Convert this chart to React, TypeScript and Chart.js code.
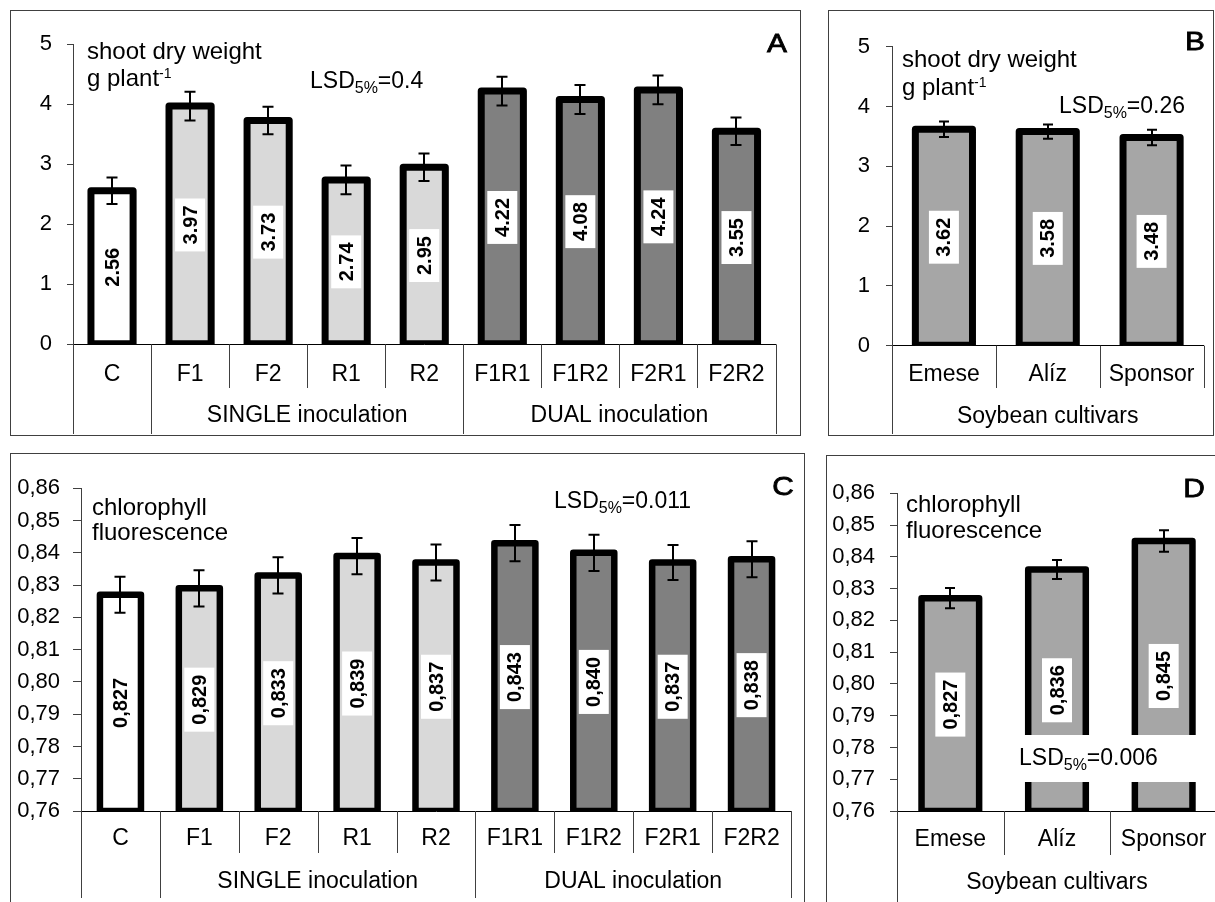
import React, { useEffect, useRef } from "react";
import { Chart, registerables } from "chart.js";

Chart.register(...registerables);

// ---------------- data ----------------
const treatments = ["C", "F1", "F2", "R1", "R2", "F1R1", "F1R2", "F2R1", "F2R2"];
const treatmentGroups = ["", "SINGLE inoculation", "DUAL inoculation"];
const treatmentGroupOf = [0, 1, 1, 1, 1, 2, 2, 2, 2];
const shootWeight = [2.56, 3.97, 3.73, 2.74, 2.95, 4.22, 4.08, 4.24, 3.55];
const shootWeightErr = [0.22, 0.24, 0.23, 0.24, 0.23, 0.24, 0.24, 0.24, 0.23];
const fluorescence = [0.827, 0.829, 0.833, 0.839, 0.837, 0.843, 0.84, 0.837, 0.838];
const fluorescenceErr = [0.0056, 0.0056, 0.0056, 0.0056, 0.0056, 0.0056, 0.0056, 0.0054, 0.0056];

const cultivars = ["Emese", "Alíz", "Sponsor"];
const cultivarGroups = ["Soybean cultivars"];
const cultivarGroupOf = [0, 0, 0];
const cultivarShoot = [3.62, 3.58, 3.48];
const cultivarShootErr = [0.13, 0.12, 0.13];
const cultivarFluor = [0.827, 0.836, 0.845];
const cultivarFluorErr = [0.0032, 0.003, 0.0034];

const shootAxis = [0, 5, 1]; // min, max, step
const fluorAxis = [0.76, 0.86, 0.01];

const lsdShootTreat = "0.4";
const lsdShootCult = "0.26";
const lsdFluorTreat = "0.011";
const lsdFluorCult = "0.006";

// ---------------- styles ----------------
const FAMILY = "'Liberation Sans', Arial, sans-serif";
Chart.defaults.font.family = FAMILY;
const treatmentFill = ["#ffffff", "#d9d9d9", "#d9d9d9", "#d9d9d9", "#d9d9d9", "#808080", "#808080", "#808080", "#808080"];
const cultivarFill = ["#a6a6a6", "#a6a6a6", "#a6a6a6"];
const LINE_GRAY = "#404040";

type Part = { t: string; size?: number; dy?: number; bold?: boolean };
type TextItem = { parts: Part[]; x: number; y: number };

function lsdParts(v: string): Part[] {
  return [{ t: "LSD", size: 23 }, { t: "5%", size: 16, dy: 5 }, { t: "=" + v, size: 23 }];
}
function unitParts(): Part[] {
  return [{ t: "g plant", size: 24 }, { t: "-1", size: 14, dy: -8 }];
}

type PanelCfg = {
  box: { left: number; top: number; width: number; height: number };
  area: { left: number; top: number; right: number; bottom: number };
  labels: string[];
  values: number[];
  errors: number[];
  groups: string[];
  groupOf: number[];
  axis: number[];
  comma: boolean;
  valueDecimals: number;
  colors: string[];
  barPct: number;
  tickLen: number;
  tickPad: number;
  capHalf: number;
  borderW: number;
  catLabelY: number;
  groupLabelY: number;
  shortLineY: number;
  fullLineY: number;
  rightFull: boolean;
  texts: TextItem[];
  letter: { t: string; x: number; y: number };
  whiteBox?: { x: number; y: number; w: number; h: number };
};

function drawRich(ctx: CanvasRenderingContext2D, parts: Part[], x: number, y: number) {
  let cx = x;
  ctx.textAlign = "left";
  ctx.textBaseline = "alphabetic";
  for (const p of parts) {
    ctx.font = `${p.bold ? "bold " : ""}${p.size ?? 22}px ${FAMILY}`;
    ctx.fillText(p.t, cx, y + (p.dy ?? 0));
    cx += ctx.measureText(p.t).width;
  }
}

function decorPlugin(cfg: PanelCfg) {
  return {
    id: "decor",
    afterDatasetsDraw(chart: any) {
      const ctx: CanvasRenderingContext2D = chart.ctx;
      const area = chart.chartArea;
      const ys = chart.scales.y;
      const meta = chart.getDatasetMeta(0);
      const ox = cfg.box.left;
      const oy = cfg.box.top;
      const bars = meta.data.map((b: any) => {
        const p = b.getProps(["x", "y", "base", "width"], true);
        return { x: p.x, y: p.y, width: p.width, base: Math.min(p.base, area.bottom) };
      });

      // thick bar outlines (centred on the bar edge), clipped at the axis
      ctx.save();
      ctx.beginPath();
      ctx.rect(area.left, 0, area.right - area.left, area.bottom);
      ctx.clip();
      ctx.strokeStyle = "#000";
      ctx.lineWidth = cfg.borderW;
      ctx.lineJoin = "round";
      bars.forEach((b: any) => {
        ctx.strokeRect(b.x - b.width / 2, b.y, b.width, b.base - b.y);
      });
      ctx.restore();

      // value labels (rotated, white box)
      ctx.save();
      bars.forEach((b: any, i: number) => {
        let s = cfg.values[i].toFixed(cfg.valueDecimals);
        if (cfg.comma) s = s.replace(".", ",");
        ctx.font = `bold 20px ${FAMILY}`;
        const tw = ctx.measureText(s).width;
        const cy = (b.y + b.base) / 2;
        const bw = 30;
        const bh = tw + 14;
        ctx.fillStyle = "#fff";
        ctx.fillRect(b.x - bw / 2, cy - bh / 2, bw, bh);
        ctx.save();
        ctx.translate(b.x, cy);
        ctx.rotate(-Math.PI / 2);
        ctx.fillStyle = "#000";
        ctx.textAlign = "center";
        ctx.textBaseline = "middle";
        ctx.fillText(s, 0, 1);
        ctx.restore();
      });
      ctx.restore();

      // error bars
      ctx.save();
      ctx.strokeStyle = "#000";
      ctx.lineWidth = 2;
      bars.forEach((b: any, i: number) => {
        const top = ys.getPixelForValue(cfg.values[i] + cfg.errors[i]);
        const bot = ys.getPixelForValue(cfg.values[i] - cfg.errors[i]);
        const x = Math.round(b.x);
        ctx.beginPath();
        ctx.moveTo(x, top);
        ctx.lineTo(x, bot);
        ctx.moveTo(x - cfg.capHalf, top);
        ctx.lineTo(x + cfg.capHalf, top);
        ctx.moveTo(x - cfg.capHalf, bot);
        ctx.lineTo(x + cfg.capHalf, bot);
        ctx.stroke();
      });
      ctx.restore();

      // category separators and group labels
      const n = cfg.labels.length;
      const centers = bars.map((b: any) => b.x);
      const bounds: number[] = [area.left];
      for (let i = 1; i < n; i++) bounds.push((centers[i - 1] + centers[i]) / 2);
      bounds.push(area.right);
      ctx.save();
      ctx.strokeStyle = LINE_GRAY;
      ctx.lineWidth = 1;
      for (let i = 0; i <= n; i++) {
        let full: boolean;
        if (i === 0) full = true;
        else if (i === n) full = cfg.rightFull;
        else full = cfg.groupOf[i - 1] !== cfg.groupOf[i];
        const x = Math.round(bounds[i]) + 0.5;
        ctx.beginPath();
        ctx.moveTo(x, area.bottom);
        ctx.lineTo(x, (full ? cfg.fullLineY : cfg.shortLineY) - oy);
        ctx.stroke();
      }
      ctx.fillStyle = "#000";
      ctx.font = `23px ${FAMILY}`;
      ctx.textAlign = "center";
      ctx.textBaseline = "middle";
      cfg.groups.forEach((g, gi) => {
        if (!g) return;
        const idx = cfg.groupOf.map((v, i) => (v === gi ? i : -1)).filter((i) => i >= 0);
        const l = bounds[idx[0]];
        const r = bounds[idx[idx.length - 1] + 1];
        ctx.fillText(g, (l + r) / 2, cfg.groupLabelY - oy);
      });
      ctx.restore();

      // annotation texts
      ctx.save();
      if (cfg.whiteBox) {
        ctx.fillStyle = "#fff";
        ctx.fillRect(cfg.whiteBox.x - ox, cfg.whiteBox.y - oy, cfg.whiteBox.w, cfg.whiteBox.h);
      }
      ctx.fillStyle = "#000";
      cfg.texts.forEach((t) => drawRich(ctx, t.parts, t.x - ox, t.y - oy));
      // panel letter: slightly wide and heavy, as in the reference
      ctx.save();
      ctx.translate(cfg.letter.x - ox, cfg.letter.y - oy);
      ctx.scale(1.15, 1);
      ctx.font = `26px ${FAMILY}`;
      ctx.textAlign = "center";
      ctx.textBaseline = "alphabetic";
      ctx.strokeStyle = "#000";
      ctx.lineWidth = 0.8;
      ctx.fillText(cfg.letter.t, 0, 0);
      ctx.strokeText(cfg.letter.t, 0, 0);
      ctx.restore();
      ctx.restore();
    },
  };
}

function buildConfig(cfg: PanelCfg): any {
  const { box, area } = cfg;
  const ox = box.left;
  const oy = box.top;
  return {
    type: "bar",
    data: {
      labels: cfg.labels,
      datasets: [
        {
          data: cfg.values,
          backgroundColor: cfg.colors,
          borderWidth: 0,
          barPercentage: cfg.barPct,
          categoryPercentage: 1,
        },
      ],
    },
    options: {
      responsive: false,
      maintainAspectRatio: false,
      animation: false,
      devicePixelRatio: 1,
      layout: {
        padding: { left: 0, top: area.top - oy, right: box.width - (area.right - ox), bottom: 0 },
      },
      plugins: { legend: { display: false }, tooltip: { enabled: false }, title: { display: false } },
      scales: {
        x: {
          type: "category",
          offset: true,
          grid: { display: false, drawTicks: false },
          border: { display: true, color: "#000", width: 1 },
          ticks: {
            color: "#000",
            font: { family: FAMILY, size: 23 },
            padding: cfg.catLabelY - area.bottom - 0.6 * 23,
            maxRotation: 0,
            minRotation: 0,
            autoSkip: false,
          },
          afterFit: (s: any) => {
            s.height = box.height - (area.bottom - oy);
          },
        },
        y: {
          type: "linear",
          min: cfg.axis[0],
          max: cfg.axis[1],
          ticks: {
            stepSize: cfg.axis[2],
            color: "#000",
            font: { family: FAMILY, size: 22 },
            padding: cfg.tickPad,
            callback: (v: any) => (cfg.comma ? Number(v).toFixed(2).replace(".", ",") : String(Math.round(Number(v)))),
          },
          grid: { drawOnChartArea: false, drawTicks: true, tickLength: cfg.tickLen, color: LINE_GRAY, lineWidth: 1 },
          border: { display: true, color: LINE_GRAY, width: 1 },
          afterFit: (s: any) => {
            s.width = area.left - ox;
          },
        },
      },
    },
    plugins: [decorPlugin(cfg)],
  };
}

const panelA: PanelCfg = {
  box: { left: 10, top: 10, width: 791, height: 426 },
  area: { left: 73, top: 44.3, right: 775.5, bottom: 344.3 },
  labels: treatments,
  values: shootWeight,
  errors: shootWeightErr,
  groups: treatmentGroups,
  groupOf: treatmentGroupOf,
  axis: shootAxis,
  comma: false,
  valueDecimals: 2,
  colors: treatmentFill,
  barPct: 0.54,
  tickLen: 6,
  tickPad: 15,
  capHalf: 5.5,
  borderW: 7,
  catLabelY: 375,
  groupLabelY: 416,
  shortLineY: 388,
  fullLineY: 434,
  rightFull: true,
  texts: [
    { parts: [{ t: "shoot dry weight", size: 24 }], x: 87, y: 58.5 },
    { parts: unitParts(), x: 87, y: 86 },
    { parts: lsdParts(lsdShootTreat), x: 310, y: 88 },
  ],
  letter: { t: "A", x: 777, y: 52 },
};

const panelB: PanelCfg = {
  box: { left: 828, top: 10, width: 386, height: 426 },
  area: { left: 892, top: 46.7, right: 1203.5, bottom: 345.7 },
  labels: cultivars,
  values: cultivarShoot,
  errors: cultivarShootErr,
  groups: cultivarGroups,
  groupOf: cultivarGroupOf,
  axis: shootAxis,
  comma: false,
  valueDecimals: 2,
  colors: cultivarFill,
  barPct: 0.55,
  tickLen: 6,
  tickPad: 16,
  capHalf: 5,
  borderW: 7,
  catLabelY: 375,
  groupLabelY: 417,
  shortLineY: 388,
  fullLineY: 434,
  rightFull: false,
  texts: [
    { parts: [{ t: "shoot dry weight", size: 24 }], x: 902, y: 66.5 },
    { parts: unitParts(), x: 902, y: 95 },
    { parts: lsdParts(lsdShootCult), x: 1059, y: 113 },
  ],
  letter: { t: "B", x: 1195, y: 50 },
};

const panelC: PanelCfg = {
  box: { left: 10, top: 453, width: 795, height: 460 },
  area: { left: 81, top: 488.3, right: 791, bottom: 811 },
  labels: treatments,
  values: fluorescence,
  errors: fluorescenceErr,
  groups: treatmentGroups,
  groupOf: treatmentGroupOf,
  axis: fluorAxis,
  comma: true,
  valueDecimals: 3,
  colors: treatmentFill,
  barPct: 0.52,
  tickLen: 8,
  tickPad: 13,
  capHalf: 5.5,
  borderW: 6.5,
  catLabelY: 839,
  groupLabelY: 882,
  shortLineY: 853,
  fullLineY: 898,
  rightFull: true,
  texts: [
    { parts: [{ t: "chlorophyll", size: 24 }], x: 92, y: 515 },
    { parts: [{ t: "fluorescence", size: 24 }], x: 92, y: 540 },
    { parts: lsdParts(lsdFluorTreat), x: 554, y: 508 },
  ],
  letter: { t: "C", x: 783, y: 495 },
};

const panelD: PanelCfg = {
  box: { left: 826, top: 455, width: 400, height: 460 },
  area: { left: 897, top: 493.3, right: 1217, bottom: 811 },
  labels: cultivars,
  values: cultivarFluor,
  errors: cultivarFluorErr,
  groups: cultivarGroups,
  groupOf: cultivarGroupOf,
  axis: fluorAxis,
  comma: true,
  valueDecimals: 3,
  colors: cultivarFill,
  barPct: 0.54,
  tickLen: 7,
  tickPad: 15,
  capHalf: 5,
  borderW: 6.5,
  catLabelY: 840,
  groupLabelY: 883,
  shortLineY: 855,
  fullLineY: 905,
  rightFull: false,
  texts: [
    { parts: [{ t: "chlorophyll", size: 24 }], x: 906, y: 511.5 },
    { parts: [{ t: "fluorescence", size: 24 }], x: 906, y: 538 },
    { parts: lsdParts(lsdFluorCult), x: 1019, y: 765 },
  ],
  letter: { t: "D", x: 1194, y: 497 },
  whiteBox: { x: 1015, y: 735, w: 182, h: 47 },
};

function Panel({ cfg }: { cfg: PanelCfg }) {
  const ref = useRef<HTMLCanvasElement | null>(null);
  useEffect(() => {
    if (!ref.current) return;
    const chart = new Chart(ref.current, buildConfig(cfg));
    return () => chart.destroy();
  }, [cfg]);
  const { left, top, width, height } = cfg.box;
  return (
    <div style={{ position: "absolute", left, top, width, height }}>
      <canvas
        ref={ref}
        width={width}
        height={height}
        style={{ position: "absolute", left: 0, top: 0, width, height, display: "block" }}
      />
      <div
        style={{
          position: "absolute",
          left: 0,
          top: 0,
          width,
          height,
          border: `1px solid ${LINE_GRAY}`,
          boxSizing: "border-box",
          pointerEvents: "none",
        }}
      />
    </div>
  );
}

export default function App() {
  return (
    <div
      style={{
        position: "absolute",
        left: 0,
        top: 0,
        width: 1215,
        height: 902,
        overflow: "hidden",
        background: "#fff",
      }}
    >
      <Panel cfg={panelA} />
      <Panel cfg={panelB} />
      <Panel cfg={panelC} />
      <Panel cfg={panelD} />
    </div>
  );
}
